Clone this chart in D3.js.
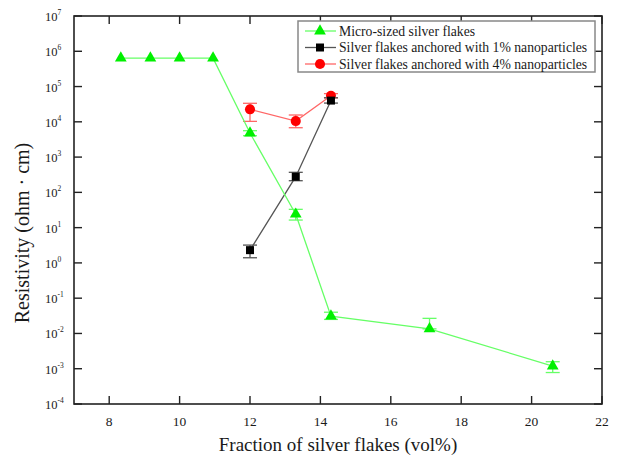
<!DOCTYPE html>
<html>
<head>
<meta charset="utf-8">
<script src="https://cdn.jsdelivr.net/npm/d3@7"></script>
<style>
  body { margin: 0; background: #fff; }
  text { font-family: "Liberation Serif", "Times New Roman", serif; fill: #1a1a1a; }
</style>
</head>
<body>
<div id="chart"></div>
<script>
// values
var microX = [8.33, 9.17, 10, 10.95, 12, 13.3, 14.3, 17.1, 20.6];
var microY = [6.4e5, 6.4e5, 6.4e5, 6.4e5, 4800, 24, 0.031, 0.0135, 0.00119];
var microLo = [6.4e5, 6.4e5, 6.4e5, 6.4e5, 4040, 16.4, 0.025, 0.0135, 0.00078];
var microHi = [6.4e5, 6.4e5, 6.4e5, 6.4e5, 5600, 33, 0.04, 0.0268, 0.00158];

var np1X = [12, 13.3, 14.3];
var np1Y = [2.3, 278, 40000];
var np1Lo = [1.4, 214, 34000];
var np1Hi = [3.2, 370, 48000];

var np4X = [12, 13.3, 14.3];
var np4Y = [22600, 10500, 55000];
var np4Lo = [10300, 6800, 48000];
var np4Hi = [33500, 15600, 63000];

var xTicks = [8, 10, 12, 14, 16, 18, 20, 22];
var yExps = [-4, -3, -2, -1, 0, 1, 2, 3, 4, 5, 6, 7];

var seriesNames = ['Micro-sized silver flakes',
    'Silver flakes anchored with 1% nanoparticles',
    'Silver flakes anchored with 4% nanoparticles'];

var width = 621, height = 462;
var mLeft = 74, mRight = 602, mTop = 16, mBottom = 404;

var svg = d3.select('#chart')
    .append('svg')
    .attr('width', width)
    .attr('height', height);

var x = d3.scaleLinear().domain([7, 22]).range([mLeft, mRight]);
var y = d3.scaleLog().domain([1e-4, 1e7]).range([mBottom, mTop]);

// frame
svg.append('rect')
    .attr('x', mLeft).attr('y', mTop)
    .attr('width', mRight - mLeft).attr('height', mBottom - mTop)
    .attr('fill', 'none').attr('stroke', '#222').attr('stroke-width', 1.6);

// ticks (inward, mirrored)
var tickLen = 8;
xTicks.forEach(function(t) {
    svg.append('line').attr('x1', x(t)).attr('x2', x(t))
        .attr('y1', mBottom).attr('y2', mBottom - tickLen)
        .attr('stroke', '#222').attr('stroke-width', 1.4);
    svg.append('line').attr('x1', x(t)).attr('x2', x(t))
        .attr('y1', mTop).attr('y2', mTop + tickLen)
        .attr('stroke', '#222').attr('stroke-width', 1.4);
    svg.append('text')
        .attr('x', x(t)).attr('y', mBottom + 22)
        .attr('text-anchor', 'middle')
        .style('font-size', '13.5px')
        .text(t);
});

yExps.forEach(function(e) {
    var v = Math.pow(10, e);
    svg.append('line').attr('x1', mLeft).attr('x2', mLeft + tickLen)
        .attr('y1', y(v)).attr('y2', y(v))
        .attr('stroke', '#222').attr('stroke-width', 1.4);
    svg.append('line').attr('x1', mRight).attr('x2', mRight - tickLen)
        .attr('y1', y(v)).attr('y2', y(v))
        .attr('stroke', '#222').attr('stroke-width', 1.4);
    var lab = svg.append('text')
        .attr('x', 45).attr('y', y(v) + 5)
        .style('font-size', '12.5px');
    lab.append('tspan').text('10');
    lab.append('tspan').attr('dy', -6).style('font-size', '7.5px').text(e);
});

// axis titles
svg.append('text')
    .attr('x', (mLeft + mRight) / 2).attr('y', 451)
    .attr('text-anchor', 'middle')
    .style('font-size', '19px')
    .text('Fraction of silver flakes (vol%)');

svg.append('text')
    .attr('transform', 'translate(29,233) rotate(-90)')
    .attr('text-anchor', 'middle')
    .style('font-size', '20px')
    .text('Resistivity (ohm \u00b7 cm)');

var line = d3.line()
    .x(function(d) { return x(d.x); })
    .y(function(d) { return y(d.y); });

function zip(xs, ys, lo, hi) {
    return xs.map(function(v, i) { return { x: v, y: ys[i], lo: lo[i], hi: hi[i] }; });
}

var series = [
    { data: zip(microX, microY, microLo, microHi), marker: 'triangle', fill: '#00f000', line: '#66ff66' },
    { data: zip(np1X, np1Y, np1Lo, np1Hi), marker: 'square', fill: '#000', line: '#555' },
    { data: zip(np4X, np4Y, np4Lo, np4Hi), marker: 'circle', fill: '#ff0000', line: '#ff6666' }
];

var symbols = {
    triangle: d3.symbol().type(d3.symbolTriangle).size(60),
    square: d3.symbol().type(d3.symbolSquare).size(64),
    circle: d3.symbol().type(d3.symbolCircle).size(80)
};

var capW = 7;

// draw order: 4% behind, then 1%, green
[series[2], series[1], series[0]].forEach(function(s) {
    var g = svg.append('g');
    g.append('path')
        .datum(s.data)
        .attr('d', line)
        .attr('fill', 'none')
        .attr('stroke', s.line)
        .attr('stroke-width', 1.3);

    var eb = g.selectAll('g.eb')
        .data(s.data.filter(function(d) { return d.hi > d.lo; }))
        .enter().append('g');
    eb.append('line')
        .attr('x1', function(d) { return x(d.x); })
        .attr('x2', function(d) { return x(d.x); })
        .attr('y1', function(d) { return y(d.lo); })
        .attr('y2', function(d) { return y(d.hi); })
        .attr('stroke', s.line).attr('stroke-width', 1.3);
    ['lo', 'hi'].forEach(function(k) {
        eb.append('line')
            .attr('x1', function(d) { return x(d.x) - capW; })
            .attr('x2', function(d) { return x(d.x) + capW; })
            .attr('y1', function(d) { return y(d[k]); })
            .attr('y2', function(d) { return y(d[k]); })
            .attr('stroke', s.line).attr('stroke-width', 1.3);
    });

    g.selectAll('path.pt')
        .data(s.data)
        .enter().append('path')
        .attr('class', 'pt')
        .attr('d', symbols[s.marker])
        .attr('transform', function(d) { return 'translate(' + x(d.x) + ',' + y(d.y) + ')'; })
        .attr('fill', s.fill);
});

// legend
var legend = svg.append('g');
legend.append('rect')
    .attr('x', 298).attr('y', 21)
    .attr('width', 297).attr('height', 51)
    .attr('fill', '#fff')
    .attr('stroke', '#888').attr('stroke-width', 1.5);

series.forEach(function(s, i) {
    var ly = 31 + i * 16.5;
    legend.append('line')
        .attr('x1', 305).attr('x2', 336)
        .attr('y1', ly).attr('y2', ly)
        .attr('stroke', s.line).attr('stroke-width', 1.3);
    legend.append('path')
        .attr('d', symbols[s.marker])
        .attr('transform', 'translate(320,' + ly + ')')
        .attr('fill', s.fill);
    legend.append('text')
        .attr('x', 339).attr('y', ly + 4.5)
        .style('font-size', '13.7px')
        .text(seriesNames[i]);
});
</script>
</body>
</html>
